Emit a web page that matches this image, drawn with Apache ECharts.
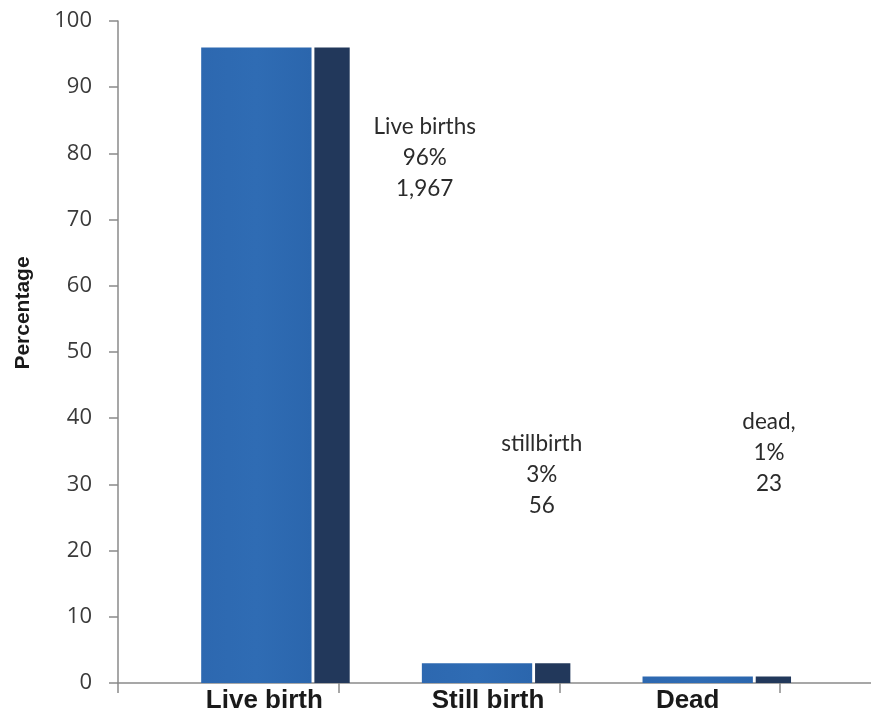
<!DOCTYPE html>
<html>
<head>
<meta charset="utf-8">
<script src="https://cdn.jsdelivr.net/npm/echarts@6/dist/echarts.min.js"></script>
<style>
  html, body { margin: 0; padding: 0; background: #ffffff; }
  #chart { width: 871px; height: 713px; }
</style>
</head>
<body>
<div id="chart"></div>
<script>
// Birth outcomes: share of all deliveries
const categories = ['Live birth', 'Still birth', 'Dead'];
const percentages = [96, 3, 1];
const counts = [1967, 56, 23];
const noteNames = ['Live births', 'stillbirth', 'dead,'];
const yTicks = { min: 0, max: 100, step: 10 };

const GRID = { left: 118, right: 91, top: 21, bottom: 30 };
const W = 871, H = 713;

const FRONT = '#2f6cb4';
const SIDE = '#22385b';

const fmt = n => n.toLocaleString('en-US');

// each bar is a blue front face plus a narrow dark side face, sitting right of the band centre
function renderBar(params, api) {
  const idx = api.value(0);
  const val = api.value(1);
  const base = api.coord([idx, 0]);
  const top = api.coord([idx, val]);
  const bw = api.size([1, 0])[0];
  const h = base[1] - top[1];
  return {
    type: 'group',
    children: [
      {
        type: 'rect',
        shape: { x: base[0] - 0.123 * bw, y: top[1], width: 0.5 * bw, height: h },
        style: {
          fill: new echarts.graphic.LinearGradient(0, 0, 1, 0, [
            { offset: 0, color: '#2d68b0' },
            { offset: 0.5, color: FRONT },
            { offset: 1, color: '#2b66ad' }
          ])
        }
      },
      {
        type: 'rect',
        shape: { x: base[0] + 0.39 * bw, y: top[1], width: 0.16 * bw, height: h },
        style: { fill: SIDE }
      }
    ]
  };
}

// annotation text blocks, anchored in data space (category index offset, value)
const noteAnchors = [[0.89, 79.4], [0.42, 31.4], [0.45, 34.8]];

function renderNote(params, api) {
  const i = params.dataIndex;
  const p = api.coord([i, 0]);
  const bw = api.size([1, 0])[0];
  const a = noteAnchors[i];
  const y = api.coord([i, a[1]])[1];
  return {
    type: 'text',
    x: p[0] + a[0] * bw,
    y: y,
    style: {
      text: noteNames[i] + '\n' + percentages[i] + '%\n' + fmt(counts[i]),
      fill: '#2b2b2b',
      font: '22.5px Lato, "Open Sans", sans-serif',
      lineHeight: 31,
      align: 'center',
      verticalAlign: 'middle'
    }
  };
}

const labelShift = [72, 78, 36];
const rich = {};
labelShift.forEach((s, i) => {
  rich['c' + i] = {
    fontFamily: '"Liberation Sans", Arial, sans-serif',
    fontSize: 26,
    fontWeight: 'bold',
    color: '#1a1a1a',
    padding: [0, 0, 0, s]
  };
});

const chart = echarts.init(document.getElementById('chart'), null, { renderer: 'canvas' });

chart.setOption({
  backgroundColor: '#ffffff',
  animation: false,
  grid: {
    left: GRID.left, right: GRID.right, top: GRID.top, bottom: GRID.bottom,
    containLabel: false,
    outerBoundsMode: 'none'
  },
  xAxis: {
    type: 'category',
    data: categories,
    boundaryGap: true,
    axisLine: { show: true, lineStyle: { color: '#8a8a8a', width: 1.5 } },
    axisTick: { show: true, length: 10, alignWithLabel: false, lineStyle: { color: '#8a8a8a', width: 1.5 } },
    axisLabel: {
      margin: 5,
      formatter: (v, i) => '{c' + i + '|' + v + '}',
      rich: rich
    },
    splitLine: { show: false }
  },
  yAxis: {
    type: 'value',
    min: yTicks.min,
    max: yTicks.max,
    interval: yTicks.step,
    name: 'Percentage',
    nameLocation: 'middle',
    nameRotate: 90,
    nameGap: 84,
    nameTextStyle: {
      fontFamily: '"Liberation Sans", Arial, sans-serif',
      fontSize: 21,
      fontWeight: 'bold',
      color: '#1a1a1a',
      padding: [0, 0, 0, 78]
    },
    axisLine: { show: true, lineStyle: { color: '#8a8a8a', width: 1.5 } },
    axisTick: { show: true, length: 9, lineStyle: { color: '#8a8a8a', width: 1.5 } },
    axisLabel: {
      margin: 26,
      fontFamily: '"Open Sans", "DejaVu Sans", sans-serif',
      fontSize: 22,
      color: '#3a3a3a'
    },
    splitLine: { show: false }
  },
  series: [
    {
      type: 'custom',
      name: 'Percentage',
      renderItem: renderBar,
      encode: { x: 0, y: 1 },
      data: percentages.map((v, i) => [i, v]),
      z: 2
    },
    {
      type: 'custom',
      name: 'notes',
      renderItem: renderNote,
      encode: { x: 0, y: 1 },
      data: percentages.map((v, i) => [i, v]),
      silent: true,
      z: 3
    }
  ],
  graphic: [
    {
      // horizontal axis continues past the last category
      type: 'line',
      shape: { x1: W - GRID.right, y1: H - GRID.bottom, x2: W, y2: H - GRID.bottom },
      style: { stroke: '#8a8a8a', lineWidth: 1.5 },
      z: 1
    }
  ]
});
</script>
</body>
</html>
